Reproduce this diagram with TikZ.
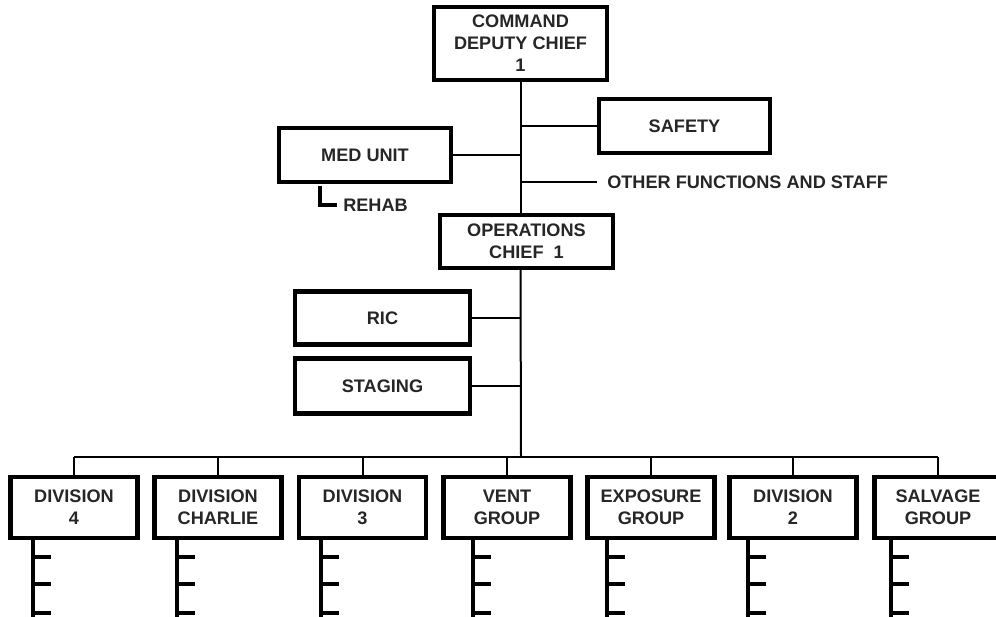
\documentclass[tikz,border=0pt]{standalone}
\usepackage{fontspec}
\setmainfont{Liberation Sans}
\usepackage{xcolor}
\usepackage{tikz}
\usetikzlibrary{positioning}
\definecolor{InkGray}{RGB}{38,38,38}

\begin{document}
\begin{tikzpicture}[x=0.75pt, y=-0.75pt,
    unit/.style={draw, line width=3.2pt, fill=white, align=center, text=InkGray,
        font=\bfseries\fontsize{13.6}{16.5}\selectfont, inner sep=0pt},
    crew/.style={unit, minimum width=95.25pt, minimum height=45.75pt},
    lbl/.style={text=InkGray, font=\bfseries\fontsize{13.6}{16.5}\selectfont, inner ysep=0pt},
    link/.style={line width=1.5pt},
    sub/.style={line width=2.6pt}]
    \useasboundingbox (0,0) rectangle (996,617);
    \clip (0,0) rectangle (996,617);

    \node[unit, minimum width=129.75pt, minimum height=54.75pt] (cmd) at (520.5,43.5) {COMMAND\\DEPUTY CHIEF\\1};
    \node[unit, minimum width=128.25pt, minimum height=40.5pt] (safety) at (684.5,126) {SAFETY};
    \node[unit, minimum width=129pt, minimum height=40.5pt] (med) at (365,155) {MED UNIT};
    \node[unit, minimum width=129.75pt, minimum height=39.75pt] (ops) at (526.5,241.5) {OPERATIONS\\CHIEF\ \ 1};
    \node[unit, minimum width=131.25pt, minimum height=39.75pt] (ric) at (382.5,318) {RIC};
    \node[unit, minimum width=131.25pt, minimum height=41.25pt] (staging) at (382.5,386) {STAGING};
    \node[lbl, anchor=west, inner xsep=7.5pt] (other) at (597,182) {OTHER FUNCTIONS AND STAFF};
    \node[lbl, anchor=west, inner xsep=4.5pt] (rehab) at (337,205) {REHAB};

    \coordinate (bus) at (521,457);
    \coordinate (rehabtop) at (320,186);

    \draw[link] (cmd.south) -- (cmd.south |- ops.north);
    \draw[link] (cmd.south |- ops.south) -- (bus);
    \draw[link] (safety.west -| cmd.south) -- (safety.west);
    \draw[link] (med.east) -- (med.east -| cmd.south);
    \draw[link] (other.west -| cmd.south) -- (other.west);
    \draw[link] (ric.east) -- (ric.east -| cmd.south);
    \draw[link] (staging.east) -- (staging.east -| cmd.south);
    \draw[sub] (rehabtop) |- (rehab.west);

    \foreach \n/\x/\t in {dfour/74/{DIVISION\\4}, dcharlie/218/{DIVISION\\CHARLIE},
        dthree/362.5/{DIVISION\\3}, vent/507/{VENT\\GROUP}, expo/651/{EXPOSURE\\GROUP},
        dtwo/793/{DIVISION\\2}, salv/938/{SALVAGE\\GROUP}} {
        \node[crew] (\n) at (\x,507.5) {\t};
        \draw[link] (\n.north) -- (\n.north |- bus);
    }
    \draw[link] (dfour.north |- bus) -- (salv.north |- bus);

    \foreach \n/\x in {dfour/33, dcharlie/177, dthree/321, vent/473, expo/607, dtwo/748, salv/891} {
        \coordinate (tick) at (\x,0);
        \draw[sub] (\n.south -| tick) -- ++(0,82);
        \foreach \y in {557,584,613} {
            \draw[sub] (\x,\y) -- ++(18,0);
        }
    }
\end{tikzpicture}
\end{document}
